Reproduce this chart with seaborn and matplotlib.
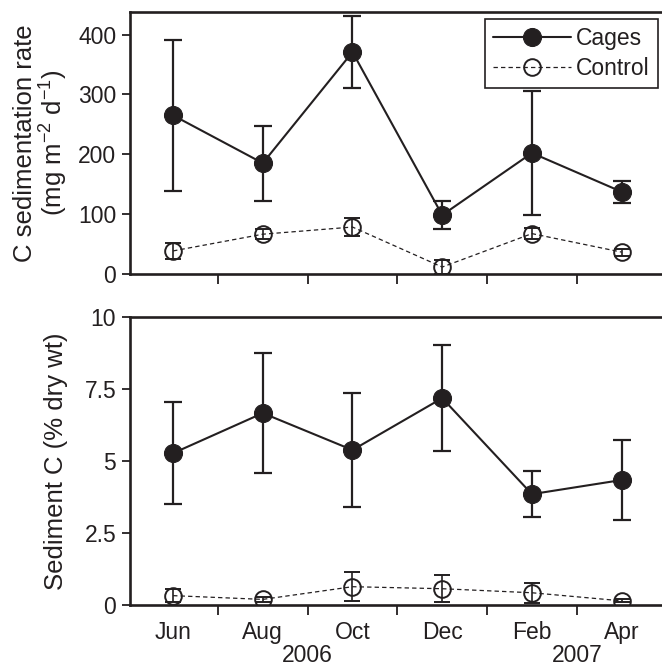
import numpy as np
import pandas as pd
import matplotlib
matplotlib.use("Agg")
import matplotlib.pyplot as plt
import matplotlib.transforms as mtransforms
import seaborn as sns

sns.set_style("ticks")
plt.rcParams['font.family'] = ['Liberation Sans', 'DejaVu Sans']
plt.rcParams['mathtext.fontset'] = 'custom'
plt.rcParams['mathtext.rm'] = 'Liberation Sans'
plt.rcParams['mathtext.it'] = 'Liberation Sans'
ink = '#231f20'
plt.rcParams['text.color'] = ink
plt.rcParams['axes.labelcolor'] = ink
plt.rcParams['axes.edgecolor'] = ink
plt.rcParams['xtick.color'] = ink
plt.rcParams['ytick.color'] = ink

months = ['Jun', 'Aug', 'Oct', 'Dec', 'Feb', 'Apr']
years = ['2006', '2007']

# C sedimentation rate (mg m-2 d-1)
sed_cages = [265, 185, 371, 98, 202, 137]
sed_cages_err = [127, 63, 60, 23, 104, 18]
sed_control = [38, 66, 78, 11, 67, 36]
sed_control_err = [14, 8, 15, 12, 9, 6]

# Sediment C (% dry wt)
pc_cages = [5.28, 6.67, 5.39, 7.19, 3.86, 4.35]
pc_cages_err = [1.76, 2.07, 1.99, 1.83, 0.80, 1.40]
pc_control = [0.34, 0.21, 0.65, 0.58, 0.44, 0.16]
pc_control_err = [0.22, 0.10, 0.50, 0.47, 0.34, 0.05]

pos = np.arange(len(months))


def draw(ax, cages, cages_err, control, control_err):
    df = pd.DataFrame({'pos': pos, 'cages': cages, 'control': control})
    ax.errorbar(pos, cages, yerr=cages_err, fmt='none', ecolor=ink,
                elinewidth=1.6, capsize=6.5, capthick=1.6, zorder=2)
    ax.errorbar(pos, control, yerr=control_err, fmt='none', ecolor=ink,
                elinewidth=1.2, capsize=6, capthick=1.4, zorder=2)
    sns.lineplot(data=df, x='pos', y='cages', ax=ax, color=ink, lw=1.5,
                 marker='o', markersize=13, markerfacecolor=ink,
                 markeredgecolor=ink, label='Cages', zorder=3)
    sns.lineplot(data=df, x='pos', y='control', ax=ax, color=ink, lw=0.9,
                 linestyle=(0, (3.5, 2.5)), marker='o', markersize=12,
                 markerfacecolor='none', markeredgecolor=ink,
                 markeredgewidth=1.4, label='Control', zorder=3)
    ax.set_xlim(-0.48, 5.45)
    ax.set_xticks(pos)
    ax.set_xticks(pos[:-1] + 0.5, minor=True)
    ax.tick_params(axis='x', which='major', length=0, labelsize=16.5, pad=11)
    ax.tick_params(axis='x', which='minor', length=7, width=1.3, direction='out')
    ax.tick_params(axis='y', length=6, width=1.3, labelsize=16.5, pad=4)
    for s in ['left', 'bottom', 'top']:
        ax.spines[s].set_linewidth(1.9)
    ax.spines['right'].set_visible(False)
    ax.set_xlabel('')


fig = plt.figure(figsize=(6.62, 6.69), dpi=100)
ax1 = fig.add_axes([0.1964, 0.591, 0.8036, 0.391])
ax2 = fig.add_axes([0.1964, 0.095, 0.8036, 0.431])

draw(ax1, sed_cages, sed_cages_err, sed_control, sed_control_err)
draw(ax2, pc_cages, pc_cages_err, pc_control, pc_control_err)

ax1.set_ylim(0, 438)
ax1.set_yticks([0, 100, 200, 300, 400])
ax1.set_xticklabels([])
ax1.set_ylabel('C sedimentation rate\n(mg m$^{-2}$ d$^{-1}$)', fontsize=18.5,
               linespacing=1.0, labelpad=6)
leg = ax1.legend(loc='upper right', bbox_to_anchor=(0.9925, 0.973), fontsize=16.5,
                 frameon=True, fancybox=False, edgecolor=ink, framealpha=1,
                 handlelength=3.4, handletextpad=0.25, borderpad=0.35,
                 labelspacing=0.3, borderaxespad=0)
leg.get_frame().set_linewidth(1.2)

ax2.set_ylim(0, 10)
ax2.set_yticks([0, 2.5, 5, 7.5, 10])
ax2.set_yticklabels(['0', '2.5', '5', '7.5', '10'])
ax2.set_xticklabels(months)
ax2.set_ylabel('Sediment C (% dry wt)', fontsize=18.5, labelpad=12)
if ax2.get_legend() is not None:
    ax2.get_legend().remove()

trans = mtransforms.blended_transform_factory(ax2.transData, ax2.transAxes)
for yr, xp in zip(years, [1.5, 4.5]):
    ax2.text(xp, -0.172, yr, transform=trans, ha='center', va='center', fontsize=16.5)

fig.savefig('out.png', dpi=100)
